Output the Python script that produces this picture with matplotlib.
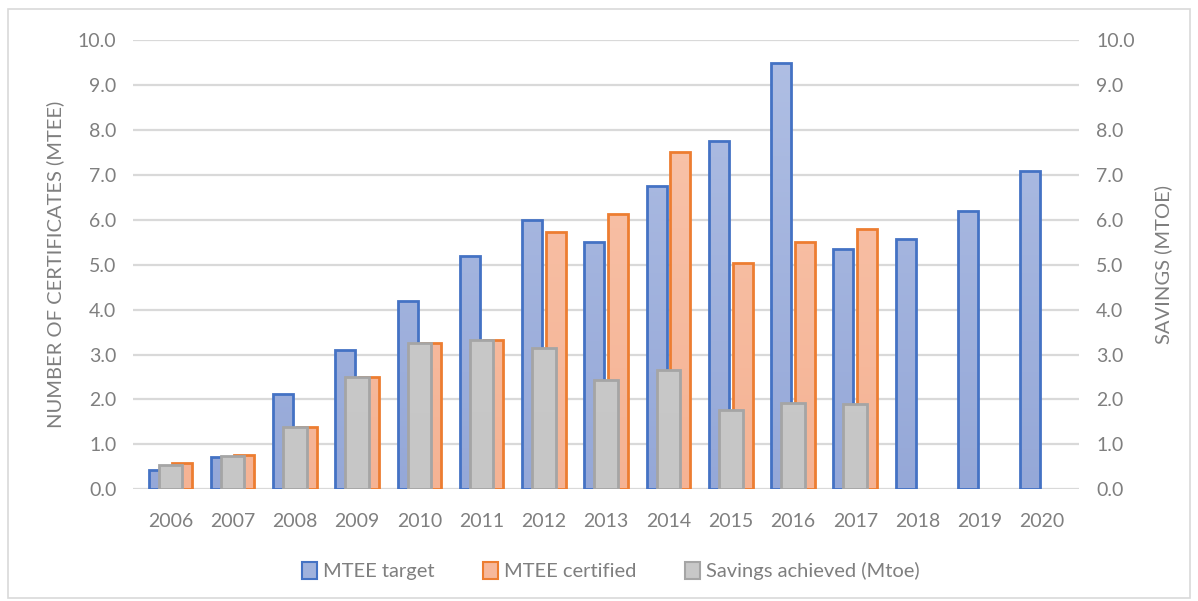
import numpy as np
import matplotlib.pyplot as plt
from matplotlib.colors import LinearSegmentedColormap
from matplotlib.patches import Rectangle, Patch

plt.rcParams['font.family'] = ['Lato', 'DejaVu Sans']

years = ['2006', '2007', '2008', '2009', '2010', '2011', '2012', '2013',
         '2014', '2015', '2016', '2017', '2018', '2019', '2020']
target = [0.42, 0.71, 2.12, 3.1, 4.2, 5.2, 6.0, 5.5, 6.75, 7.75, 9.5, 5.35, 5.57, 6.2, 7.08]
certified = [0.58, 0.76, 1.38, 2.5, 3.25, 3.33, 5.73, 6.12, 7.52, 5.03, 5.5, 5.8]
savings = [0.55, 0.75, 1.38, 2.5, 3.25, 3.33, 3.15, 2.43, 2.65, 1.77, 1.93, 1.9]

grey_txt = '#7f7f7f'
blue_edge, orange_edge, grey_edge = '#4472C4', '#ED7D31', '#A5A5A5'
blue_cm = LinearSegmentedColormap.from_list('b', ['#b0bfe4', '#95a8d8'])
orange_cm = LinearSegmentedColormap.from_list('o', ['#f9c6ae', '#f5b394'])
grey_cm = LinearSegmentedColormap.from_list('g', ['#cccccc', '#c6c6c6'])


def grad_bars(ax, x, h, width, cmap, edge):
    bars = ax.bar(x, h, width, color='none', edgecolor=edge, linewidth=2, zorder=3)
    grad = np.linspace(0, 1, 100).reshape(-1, 1)
    for b in bars:
        x0, y0 = b.get_x(), b.get_y()
        w, hh = b.get_width(), b.get_height()
        im = ax.imshow(grad, cmap=cmap, aspect='auto', origin='upper',
                       extent=[x0, x0 + w, 0, 10], zorder=2)
        im.set_clip_path(Rectangle((x0, y0), w, hh, transform=ax.transData))
    return bars


fig = plt.figure(figsize=(11.98, 6.01), dpi=100)
fig.patches.append(Rectangle((0.007, 0.005), 0.986, 0.98, transform=fig.transFigure,
                             fill=False, edgecolor='#d9d9d9', linewidth=1.2))
ax = fig.add_axes([0.111, 0.186, 0.790, 0.747])
ax2 = ax.twinx()

x = np.arange(len(years))
w = 0.32
grad_bars(ax, x - 0.19, target, w, blue_cm, blue_edge)
grad_bars(ax, x[:len(certified)] + 0.19, certified, w, orange_cm, orange_edge)
grad_bars(ax2, x[:len(savings)], savings, 0.38, grey_cm, grey_edge)

for a in (ax, ax2):
    a.set_ylim(0, 10)
    a.set_xlim(-0.6, 14.6)
    a.set_yticks(np.arange(0, 10.5, 1))
    a.set_yticklabels([f'{v:.1f}' for v in np.arange(0, 10.5, 1)])
    for s in a.spines.values():
        s.set_visible(False)
    a.tick_params(length=0, labelsize=14, colors=grey_txt, pad=12)

ax.yaxis.grid(True, color='#d9d9d9', linewidth=1.6, zorder=0)
ax.set_axisbelow(True)
ax.set_xticks(x)
ax.set_xticklabels(years)
ax.tick_params(axis='x', pad=17)
ax.set_ylabel('NUMBER OF CERTIFICATES (MTEE)', fontsize=14.5, color=grey_txt, labelpad=10)
ax2.set_ylabel('SAVINGS (MTOE)', fontsize=14.5, color=grey_txt, labelpad=14)

handles = [Patch(facecolor='#a0b2dd', edgecolor=blue_edge, linewidth=1.5),
           Patch(facecolor='#f7b89b', edgecolor=orange_edge, linewidth=1.5),
           Patch(facecolor='#c8c8c8', edgecolor=grey_edge, linewidth=1.5)]
fig.legend(handles, ['MTEE target', 'MTEE certified', 'Savings achieved (Mtoe)'],
           loc='center', bbox_to_anchor=(0.51, 0.05), ncol=3, frameon=False,
           fontsize=14.5, labelcolor=grey_txt, handlelength=0.75, handleheight=0.9,
           handletextpad=0.3, columnspacing=2.4)

fig.savefig('out.png', dpi=100)
